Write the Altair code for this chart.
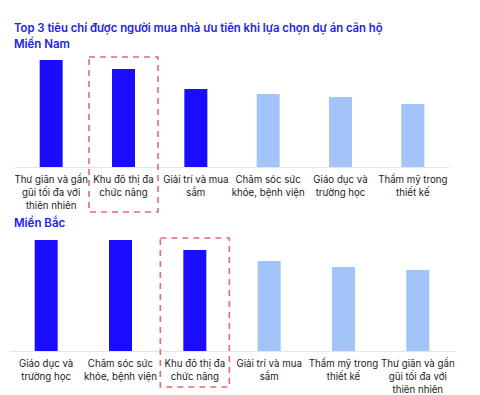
import altair as alt
import pandas as pd

# ---- data (relative bar heights) ----
south_labels = [
    "Thư giãn và gần\ngũi tối đa với\nthiên nhiên",
    "Khu đô thị đa\nchức năng",
    "Giải trí và mua\nsắm",
    "Chăm sóc sức\nkhỏe, bệnh viện",
    "Giáo dục và\ntrường học",
    "Thẩm mỹ trong\nthiết kế",
]
south_values = [107, 98, 78, 73, 70, 63]
south_top3 = [True, True, True, False, False, False]
south_highlight = "Khu đô thị đa\nchức năng"

north_labels = [
    "Giáo dục và\ntrường học",
    "Chăm sóc sức\nkhỏe, bệnh viện",
    "Khu đô thị đa\nchức năng",
    "Giải trí và mua\nsắm",
    "Thẩm mỹ trong\nthiết kế",
    "Thư giãn và gần\ngũi tối đa với\nthiên nhiên",
]
north_values = [111, 111, 101, 90, 84, 81]
north_top3 = [True, True, True, False, False, False]
north_highlight = "Khu đô thị đa\nchức năng"

DARK = "#1a0dff"
LIGHT = "#a3c4f8"
TITLE_BLUE = "#2222e6"
RED = "#e06a7a"
FONT = "Inter"


def panel(labels, values, top3, highlight, title, width, height, ymax, hl_top, hl_bottom, title_dx):
    df = pd.DataFrame({"label": labels, "value": values,
                       "group": ["top" if t else "other" for t in top3]})
    hl = pd.DataFrame({"label": [highlight], "value": [hl_top], "low": [hl_bottom]})
    x = alt.X("label:N", sort=labels, title=None,
              scale=alt.Scale(paddingInner=0, paddingOuter=0),
              axis=alt.Axis(labelExpr="split(datum.label, '\\n')", labelAngle=0,
                            ticks=False, domainColor="#e3e5ea", domainWidth=1,
                            labelColor="#222222", labelFont=FONT, labelFontSize=9.7,
                            labelLineHeight=13, labelPadding=7, labelBaseline="top",
                            labelLimit=200))
    y = alt.Y("value:Q", scale=alt.Scale(domain=[0, ymax], nice=False, clamp=False), axis=None)
    bars = alt.Chart(df).mark_bar(size=23).encode(
        x=x, y=y,
        color=alt.Color("group:N", scale=alt.Scale(domain=["top", "other"], range=[DARK, LIGHT]),
                        legend=None),
    )
    box = alt.Chart(hl).mark_bar(size=69, fill=None, stroke=RED, strokeWidth=1.6,
                                 strokeDash=[6, 5], clip=False).encode(
        x=alt.X("label:N", sort=labels),
        y=alt.Y("value:Q"),
        y2=alt.Y2("low:Q"),
    )
    return alt.layer(bars, box).properties(
        width=width, height=height,
        title=alt.TitleParams(title, anchor="start", font=FONT, fontSize=11.5,
                              fontWeight=600, color=TITLE_BLUE, offset=2, dx=title_dx),
    )


top = panel(south_labels, south_values, south_top3, south_highlight, "Miền Nam",
            434, 115, 115, 110, -45, 0)
bottom = panel(north_labels, north_values, north_top3, north_highlight, "Miền Bắc",
               446, 120, 120, 113, -36, 5)

chart = alt.vconcat(top, bottom, spacing=4, center=True).properties(
    title=alt.TitleParams("Top 3 tiêu chí được người mua nhà ưu tiên khi lựa chọn dự án căn hộ",
                          anchor="start", font=FONT, fontSize=11.3, fontWeight=600,
                          color=TITLE_BLUE, offset=4, dx=5),
    padding={"left": 1, "top": 15, "right": 5, "bottom": 5},
).configure_view(stroke=None).resolve_scale(color="independent")

chart.save("out.html", embed_options={"renderer": "svg", "actions": False})
